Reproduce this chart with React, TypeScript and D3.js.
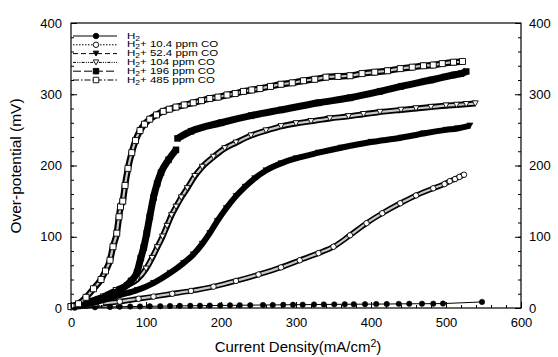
import React, { useEffect, useRef } from 'react';
import * as d3 from 'd3';

const xTicks = [0, 100, 200, 300, 400, 500, 600];
const yTicks = [0, 100, 200, 300, 400];

const h2X = [5, 32, 52, 65, 79, 92, 105, 119, 132, 145, 159, 172, 185, 199, 212, 225, 239, 256, 269, 283, 296, 309, 324, 337, 351, 365, 377, 392, 407, 421, 437, 451, 468, 483, 496, 548];
const h2Y = [0.5, 1, 1.5, 1.8, 2, 2.2, 2.4, 2.6, 2.8, 3, 3.1, 3.3, 3.4, 3.6, 3.7, 3.9, 4, 4.2, 4.3, 4.5, 4.6, 4.7, 4.9, 5, 5.1, 5.2, 5.3, 5.4, 5.5, 5.6, 5.8, 5.9, 6, 6.1, 6.2, 8.5];

const co10X = [0, 20, 40, 65, 90, 110, 135, 160, 190, 220, 250, 280, 305, 330, 350, 372, 394, 415, 439, 460, 483, 498, 505, 512, 518, 524];
const co10Y = [1, 3, 6, 9, 13, 16, 20, 24, 30, 38, 47, 57, 67, 77, 86, 102, 119, 133, 147, 158, 168, 174, 178, 181, 184, 187];

const co52X = [0, 20, 43, 65, 88, 110, 132, 150, 163, 175, 185, 195, 207, 220, 232, 245, 260, 280, 300, 330, 360, 400, 440, 470, 500, 515, 532];
const co52Y = [2, 5, 11, 18, 25, 35, 49, 63, 75, 90, 105, 122, 140, 157, 170, 182, 193, 203, 210, 218, 225, 233, 239, 245, 250, 252, 256];

const co104X = [0, 20, 43, 60, 75, 88, 100, 108, 115, 122, 128, 134, 140, 147, 155, 165, 175, 190, 205, 220, 240, 260, 280, 300, 320, 345, 370, 390, 412, 440, 460, 480, 500, 514, 527, 539];
const co104Y = [2, 8, 16, 25, 32, 40, 55, 70, 85, 100, 115, 130, 142, 155, 168, 185, 198, 212, 224, 232, 242, 249, 255, 259, 262, 266, 269, 272, 275, 278, 280, 282, 284, 285, 286, 287];

const co196aX = [0, 20, 35, 50, 65, 80, 88, 93, 97, 101, 105, 110, 115, 120, 130, 140];
const co196aY = [2, 6, 11, 18, 25, 38, 50, 70, 85, 105, 128, 155, 175, 190, 208, 222];
const co196bX = [142, 160, 200, 240, 280, 330, 372, 412, 440, 480, 510, 520, 527];
const co196bY = [238, 248, 260, 270, 278, 288, 295, 304, 311, 320, 327, 329, 332];

const co485X = [0, 10, 20, 30, 40, 46, 52, 56, 61, 64, 66, 69, 72, 76, 81, 86, 92, 98, 105, 114, 123, 131, 140, 151, 163, 174, 185, 196, 208, 219, 230, 241, 252, 266, 280, 295, 310, 325, 340, 356, 372, 388, 405, 422, 439, 455, 470, 483, 495, 510, 522];
const co485Y = [2, 6, 15, 27, 40, 52, 67, 86, 105, 128, 142, 150, 172, 196, 218, 235, 249, 258, 265, 271, 276, 279, 282, 285, 288, 291, 294, 296, 299, 301, 304, 306, 308, 311, 314, 316, 319, 321, 324, 325, 326, 329, 331, 333, 336, 338, 340, 341, 343, 345, 346];

const legendLabels = ['10.4', '52.4', '104', '196', '485'];

type Series = {
  xs: number[][];
  ys: number[][];
  marker: 'circle' | 'tri' | 'square';
  filled: boolean;
  dash: string;
  band: number;
};

const series: Series[] = [
  { xs: [h2X], ys: [h2Y], marker: 'circle', filled: true, dash: 'none', band: 0 },
  { xs: [co10X], ys: [co10Y], marker: 'circle', filled: false, dash: '1.5,1.5', band: 5.5 },
  { xs: [co52X], ys: [co52Y], marker: 'tri', filled: true, dash: '5,3', band: 6 },
  { xs: [co104X], ys: [co104Y], marker: 'tri', filled: false, dash: '3,1.2,1,1.2,1,1.2', band: 6 },
  { xs: [co196aX, co196bX], ys: [co196aY, co196bY], marker: 'square', filled: true, dash: '8,3', band: 7 },
  { xs: [co485X], ys: [co485Y], marker: 'square', filled: false, dash: '6,2,1.5,2', band: 6.5 },
];

const FONT = 'Liberation Sans, Arial, sans-serif';

function markerPath(kind: string, s: number) {
  if (kind === 'circle') return d3.symbol(d3.symbolCircle, s * s * 0.78)();
  if (kind === 'square') return d3.symbol(d3.symbolSquare, s * s)();
  const h = s * 0.9;
  return `M${-s / 2},${-h / 2}L${s / 2},${-h / 2}L0,${h / 2}Z`;
}

export default function App() {
  const ref = useRef<SVGGElement>(null);

  useEffect(() => {
    const svg = d3.select(ref.current);
    svg.selectAll('*').remove();

    const x = d3.scaleLinear().domain([0, 600]).range([71, 521]);
    const y = d3.scaleLinear().domain([0, 400]).range([308, 23]);

    const g = svg.append('g');

    series.forEach((s) => {
      s.xs.forEach((xs, k) => {
        const ys = s.ys[k];
        const pts = xs.map((v, i) => [v, ys[i]] as [number, number]);
        const line = d3
          .line<[number, number]>()
          .x((d) => x(d[0]))
          .y((d) => y(d[1]))
          .curve(d3.curveMonotoneX);
        if (s.band > 0) {
          g.append('path')
            .attr('d', line(pts) as string)
            .attr('fill', 'none')
            .attr('stroke', '#000')
            .attr('stroke-width', s.band)
            .attr('stroke-linejoin', 'round');
          if (!s.filled) {
            g.append('path')
              .attr('d', line(pts) as string)
              .attr('fill', 'none')
              .attr('stroke', '#c8c8c8')
              .attr('stroke-width', 2.2);
          }
        } else {
          g.append('path')
            .attr('d', d3.line<[number, number]>().x((d) => x(d[0])).y((d) => y(d[1]))(pts) as string)
            .attr('fill', 'none')
            .attr('stroke', '#000')
            .attr('stroke-width', 1);
        }
        g.selectAll(null)
          .data(pts)
          .enter()
          .append('path')
          .attr('d', markerPath(s.marker, s.marker === 'circle' ? 5.5 : 6) as string)
          .attr('transform', (d) => `translate(${x(d[0])},${y(d[1])})`)
          .attr('fill', s.filled ? '#000' : '#fff')
          .attr('stroke', '#000')
          .attr('stroke-width', s.filled ? 0.5 : 0.9);
      });
    });

    const minor = d3.range(0, 401, 20);
    const minorX = d3.range(0, 601, 20);
    const styleAxis = (sel: d3.Selection<SVGGElement, unknown, null, undefined>) => {
      sel.select('.domain').remove();
      sel.selectAll('text').attr('font-family', FONT).attr('font-size', 13).attr('fill', '#000');
      sel.selectAll('line').attr('stroke', '#000');
    };

    svg.append('g').attr('transform', 'translate(71,0)')
      .call(d3.axisLeft(y).tickValues(minor).tickFormat(() => '').tickSizeInner(-3).tickSizeOuter(0))
      .call(styleAxis);
    svg.append('g').attr('transform', 'translate(71,0)')
      .call(d3.axisLeft(y).tickValues(yTicks).tickSizeInner(-6).tickSizeOuter(0).tickPadding(9))
      .call(styleAxis);
    svg.append('g').attr('transform', 'translate(521,0)')
      .call(d3.axisRight(y).tickValues(minor).tickFormat(() => '').tickSizeInner(-3).tickSizeOuter(0))
      .call(styleAxis);
    svg.append('g').attr('transform', 'translate(521,0)')
      .call(d3.axisRight(y).tickValues(yTicks).tickSizeInner(-6).tickSizeOuter(0).tickPadding(8))
      .call(styleAxis);
    svg.append('g').attr('transform', 'translate(0,308)')
      .call(d3.axisBottom(x).tickValues(minorX).tickFormat(() => '').tickSizeInner(-3).tickSizeOuter(0))
      .call(styleAxis);
    svg.append('g').attr('transform', 'translate(0,308)')
      .call(d3.axisBottom(x).tickValues(xTicks).tickSizeInner(-6).tickSizeOuter(0).tickPadding(10))
      .call(styleAxis);

    svg.append('rect')
      .attr('x', 71).attr('y', 23).attr('width', 450).attr('height', 285)
      .attr('fill', 'none').attr('stroke', '#000').attr('stroke-width', 1.2);

    const lg = svg.append('g');
    const rowY = (i: number) => 36 + i * 8.8;
    series.forEach((s, i) => {
      const yy = rowY(i);
      lg.append('line')
        .attr('x1', 73).attr('x2', 117).attr('y1', yy).attr('y2', yy)
        .attr('stroke', '#000').attr('stroke-width', 1)
        .attr('stroke-dasharray', s.dash);
      lg.append('path')
        .attr('d', markerPath(s.marker, 5.5) as string)
        .attr('transform', `translate(96,${yy})`)
        .attr('fill', s.filled ? '#000' : '#fff')
        .attr('stroke', '#000').attr('stroke-width', 0.9);
      const t = lg.append('text')
        .attr('transform', `translate(127,${yy + 2.6}) scale(1,0.78)`)
        .attr('font-family', FONT).attr('font-size', 11.5).attr('fill', '#000');
      t.append('tspan').text('H');
      t.append('tspan').attr('font-size', 8.5).attr('dy', 2.5).text('2');
      if (i > 0) {
        t.append('tspan').attr('dy', -2.5).text(`+ ${legendLabels[i - 1]} ppm CO`);
      }
    });
  }, []);

  return (
    <svg width={558} height={357} style={{ position: 'absolute', left: 0, top: 0, background: '#fff' }}>
      <g ref={ref} />
      <text x={298} y={352} textAnchor="middle" fontFamily={FONT} fontSize={15} fill="#000">
        Current Density(mA/cm
        <tspan dy={-5.5} fontSize={10.5}>2</tspan>
        <tspan dy={5.5}>)</tspan>
      </text>
      <text
        transform="translate(21,166) rotate(-90)"
        textAnchor="middle"
        fontFamily={FONT}
        fontSize={15.5}
        fill="#000"
      >
        Over-potential (mV)
      </text>
    </svg>
  );
}
